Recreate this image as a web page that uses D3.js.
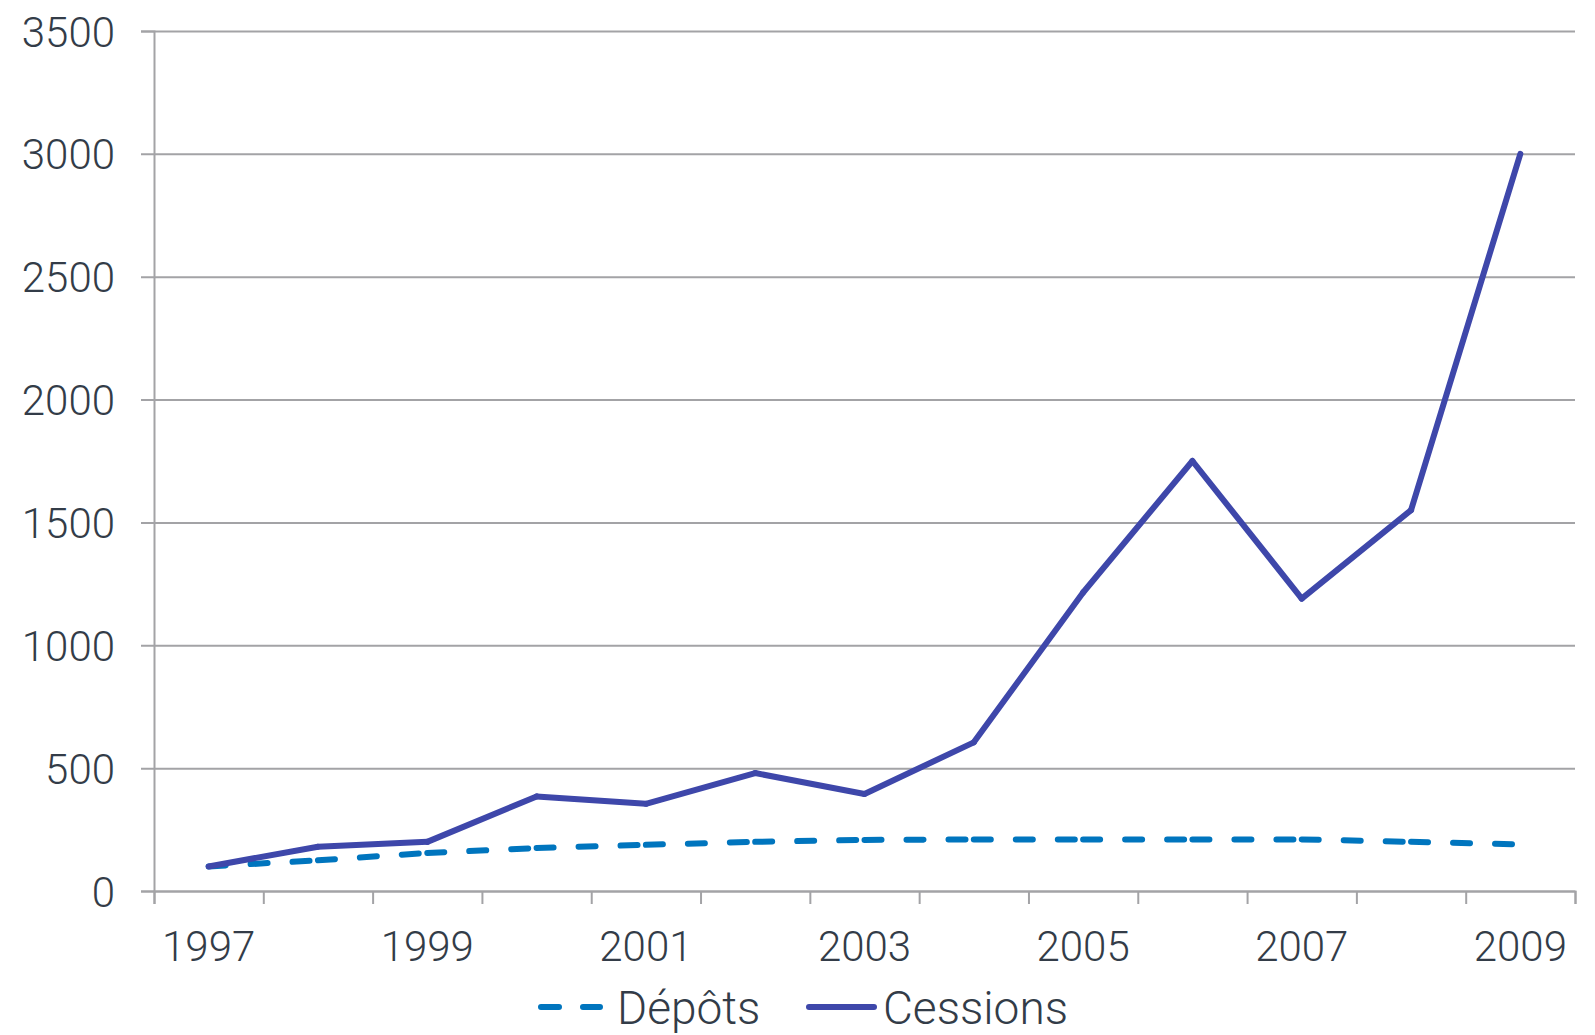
<!DOCTYPE html>
<html>
<head>
<meta charset="utf-8">
<script src="https://cdn.jsdelivr.net/npm/d3@7"></script>
<style>
  html, body { margin: 0; padding: 0; background: #fff; overflow: hidden; }
  svg { display: block; }
  svg text { font-family: Roboto, "Liberation Sans", Arial, sans-serif; font-weight: 300; fill: #333c48; }
</style>
</head>
<body>
<svg id="chart"></svg>
<script>
// data
const years = [1997, 1998, 1999, 2000, 2001, 2002, 2003, 2004, 2005, 2006, 2007, 2008, 2009];
const depots = [100, 125, 155, 175, 188, 200, 208, 210, 210, 210, 210, 200, 190];
const cessions = [100, 180, 200, 385, 355, 480, 395, 605, 1215, 1750, 1190, 1550, 3000];
const yTicks = [0, 500, 1000, 1500, 2000, 2500, 3000, 3500];
const xLabels = [1997, 1999, 2001, 2003, 2005, 2007, 2009];

// set up constants
const width = 1595;
const height = 1035;
const margin = { top: 31, right: 20, bottom: 144, left: 154 };
const innerWidth = width - margin.left - margin.right;
const innerHeight = height - margin.top - margin.bottom;
const gridColor = '#a3a3a6';
const fontStack = 'Roboto, "Liberation Sans", Arial, sans-serif';

const svg = d3.select('#chart')
  .attr('width', width)
  .attr('height', height);

// scales
const xScale = d3.scaleLinear()
  .domain([years[0] - 0.5, years[years.length - 1] + 0.5])
  .range([0, innerWidth]);

const yScale = d3.scaleLinear()
  .domain([0, 3500])
  .range([innerHeight, 0]);

const g = svg.append('g')
  .attr('transform', `translate(${margin.left}, ${margin.top})`);

// y axis + gridlines
const yAxis = g.append('g')
  .call(d3.axisLeft(yScale).tickValues(yTicks).tickSize(13).tickPadding(26).tickFormat(d3.format('d')));
yAxis.select('.domain').attr('stroke', gridColor).attr('stroke-width', 2);
yAxis.selectAll('.tick line').attr('stroke', gridColor).attr('stroke-width', 2)
  .attr('x2', innerWidth).attr('x1', -13);
yAxis.selectAll('.tick text')
  .attr('font-size', 42).attr('dy', '0.36em')
  .style('font-family', fontStack)
  .style('font-weight', 300)
  .attr('fill', '#333c48');

// x axis: boundary ticks, labels every other year
const bounds = d3.range(years.length + 1).map(i => years[0] - 0.5 + i);
const xAxis = g.append('g')
  .attr('transform', `translate(0, ${innerHeight})`)
  .call(d3.axisBottom(xScale).tickValues(bounds).tickSize(13).tickFormat(''));
xAxis.select('.domain').attr('stroke', gridColor).attr('stroke-width', 2);
xAxis.selectAll('.tick line').attr('stroke', gridColor).attr('stroke-width', 2);
xAxis.selectAll('.tick text').remove();

g.append('g')
  .selectAll('text')
  .data(xLabels)
  .enter()
  .append('text')
  .attr('x', d => xScale(d))
  .attr('y', innerHeight + 70)
  .attr('text-anchor', 'middle')
  .attr('font-size', 42)
  .text(d => d);

// lines, drawn segment by segment so the dashes restart at each point
const line = d3.line()
  .x(d => xScale(d.year))
  .y(d => yScale(d.value));

function drawSeries(values, color, dash) {
  const pts = years.map((year, i) => ({ year, value: values[i] }));
  const segs = d3.pairs(pts);
  g.append('g')
    .selectAll('path')
    .data(segs)
    .enter()
    .append('path')
    .attr('d', d => line(d))
    .attr('fill', 'none')
    .attr('stroke', color)
    .attr('stroke-width', 6)
    .attr('stroke-linecap', 'round')
    .attr('stroke-linejoin', 'round')
    .attr('stroke-dasharray', dash);
}

drawSeries(depots, '#0075be', '17,25');
drawSeries(cessions, '#3e47aa', null);

// legend
const legend = svg.append('g');
const ly = 1007;
legend.append('line')
  .attr('x1', 541).attr('x2', 600).attr('y1', ly).attr('y2', ly)
  .attr('stroke', '#0075be').attr('stroke-width', 6)
  .attr('stroke-linecap', 'round').attr('stroke-dasharray', '18,24');
legend.append('text')
  .attr('x', 617).attr('y', 1024)
  .attr('font-size', 46)
  .text('Dépôts');
legend.append('line')
  .attr('x1', 809).attr('x2', 874).attr('y1', ly).attr('y2', ly)
  .attr('stroke', '#3e47aa').attr('stroke-width', 6)
  .attr('stroke-linecap', 'round');
legend.append('text')
  .attr('x', 883).attr('y', 1024)
  .attr('font-size', 46)
  .text('Cessions');
</script>
</body>
</html>
